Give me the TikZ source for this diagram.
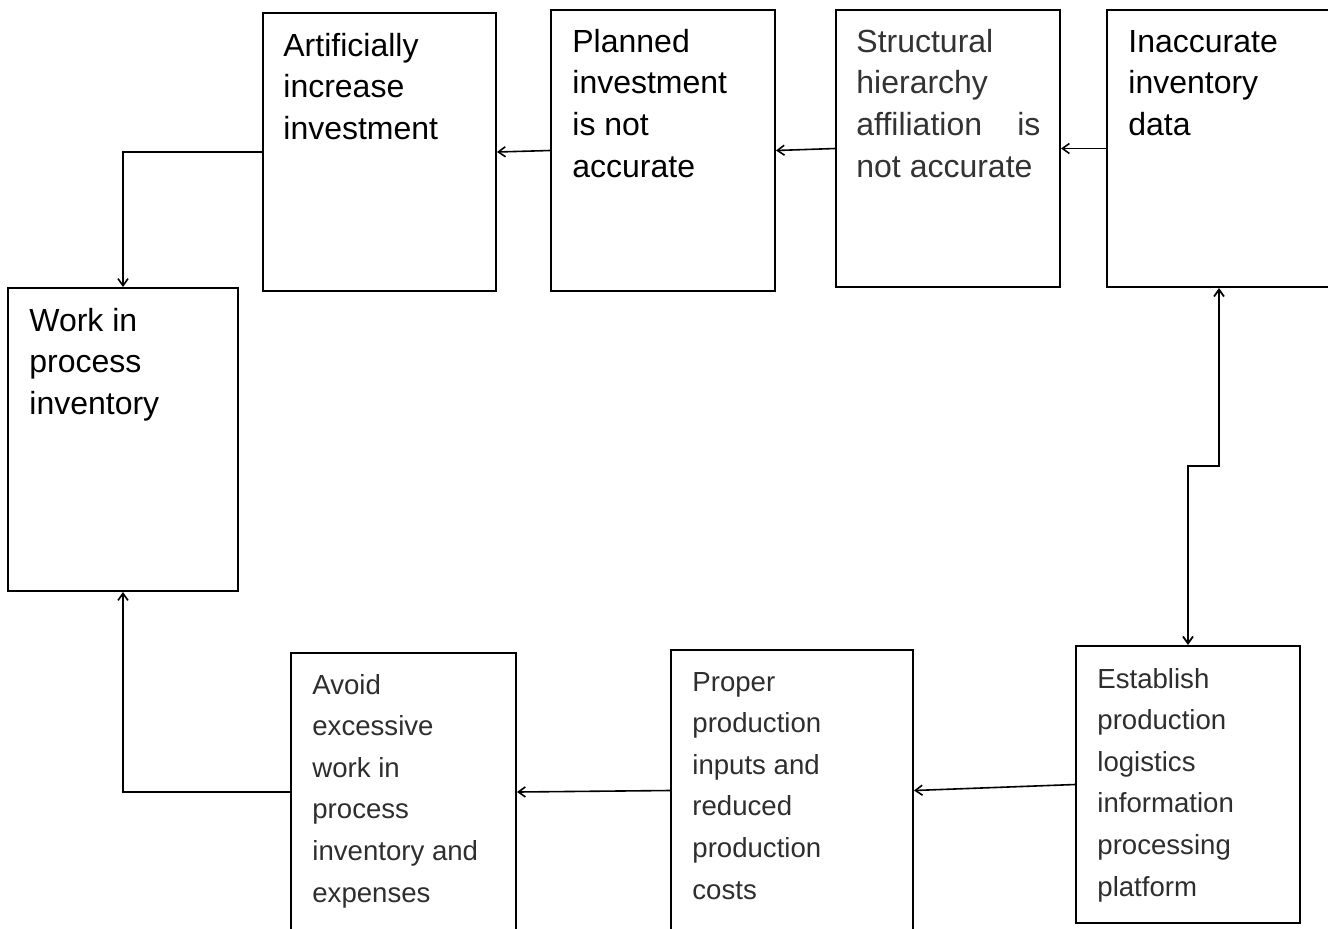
\documentclass[tikz,border=0pt]{standalone}
\usepackage{fontspec}
\setmainfont{Liberation Sans}
\usetikzlibrary{arrows.meta,fit}
\begin{document}
\begin{tikzpicture}[x=0.5pt,y=-0.5pt,
  box/.style={draw=black,line width=1pt,inner sep=0pt,rectangle},
  bigtxt/.style={inner sep=0pt,anchor=base west,font=\fontsize{16}{20.9}\selectfont},
  smalltxt/.style={inner sep=0pt,anchor=base west,text=black!82,font=\fontsize{13.8}{20.8}\selectfont},
  arr/.style={line width=0.8pt,-{Straight Barb[length=3.5pt,width=5pt]}},
  dbl/.style={line width=0.9pt,{Straight Barb[length=3.5pt,width=5pt]}-{Straight Barb[length=3.5pt,width=5pt]}}]
\useasboundingbox (0,0) rectangle (1328,928);

% boxes of the top row
\node[box,fit={(263,13) (496,291)}] (art) {};
\node[box,fit={(551,10) (775,291)}] (plan) {};
\node[box,fit={(836,10) (1060,287)}] (struct) {};
\node[box,fit={(1107,10) (1331,287)}] (inac) {};
% left box
\node[box,fit={(8,288) (238,591)}] (work) {};
% boxes of the bottom row
\node[box,fit={(291,653) (516,931)}] (avoid) {};
\node[box,fit={(671,650) (913,931)}] (prop) {};
\node[box,fit={(1076,646) (1300,923)}] (est) {};

% texts
\node[bigtxt] (artT) at (283,56) {\parbox[t]{110pt}{Artificially\\increase\\investment}};
\node[bigtxt] (planT) at (572,52) {\parbox[t]{100pt}{Planned\\investment\\is not\\accurate}};
\node[bigtxt,text=black!80] (structT) at (856,52) {\parbox[t]{100pt}{Structural\\hierarchy\\\makebox[92pt][s]{affiliation is}\\not accurate}};
\node[bigtxt] (inacT) at (1128,52) {\parbox[t]{100pt}{Inaccurate\\inventory\\data}};
\node[bigtxt] (workT) at (29,331) {\parbox[t]{100pt}{Work in\\process\\inventory}};
\node[smalltxt] (avoidT) at (312,694) {\parbox[t]{100pt}{Avoid\\excessive\\work in\\process\\inventory and\\expenses}};
\node[smalltxt] (propT) at (692,691) {\parbox[t]{100pt}{Proper\\production\\inputs and\\reduced\\production\\costs}};
\node[smalltxt] (estT) at (1097,688) {\parbox[t]{100pt}{Establish\\production\\logistics\\information\\processing\\platform}};

% connectors
\draw[arr] (inac.west) -- (struct.east);
\draw[arr] (struct.west) -- (plan.east);
\draw[arr] (plan.west) -- (art.east);
\draw[arr] (art.west) -| (work.north);
\draw[arr] (est.west) -- (prop.east);
\draw[arr] (prop.west) -- (avoid.east);
\draw[arr] (avoid.west) -| (work.south);
\coordinate (step) at (1200,466);
\draw[dbl] (inac.south) |- (step) -| (est.north);
\end{tikzpicture}
\end{document}
